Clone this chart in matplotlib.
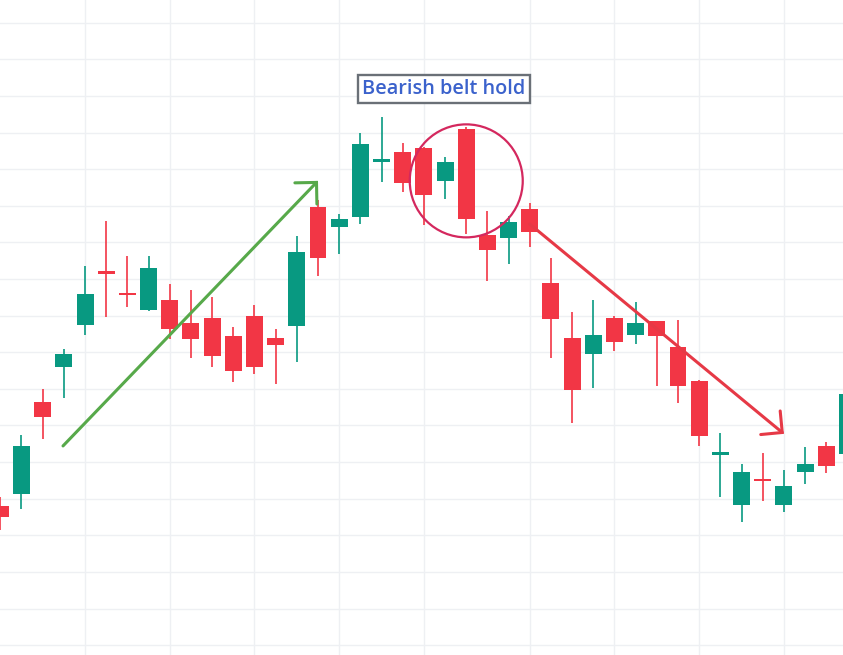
"""Bearish belt hold candlestick illustration."""

import matplotlib

matplotlib.use("Agg")
import matplotlib.pyplot as plt
from matplotlib.patches import ArrowStyle, Ellipse, FancyArrowPatch

# OHLC (grid step = 1.0 price unit)
opens = [23.80, 24.13, 26.64, 27.60, 28.74, 30.19, 29.62, 29.15, 29.43, 28.80,
         28.93, 28.44, 28.99, 28.39, 28.72, 31.97, 31.42, 31.69, 33.20, 33.47,
         33.58, 32.68, 34.10, 31.20, 31.12, 31.91, 29.89, 28.39, 27.95, 28.93,
         28.47, 28.85, 28.14, 27.21, 25.22, 23.83, 24.54, 23.83, 24.73, 25.44,
         25.22]
highs = [24.04, 25.74, 26.99, 28.09, 30.36, 31.58, 30.63, 30.63, 29.86, 29.70,
         29.51, 28.69, 29.29, 28.63, 31.17, 32.16, 31.78, 33.99, 34.43, 33.72,
         33.60, 33.33, 34.15, 31.86, 31.72, 32.08, 30.57, 29.10, 29.43, 28.99,
         29.37, 28.86, 28.88, 27.24, 25.79, 24.95, 25.25, 24.78, 25.41, 25.55,
         27.00]
lows = [23.14, 23.72, 25.63, 26.75, 28.47, 28.96, 29.23, 29.13, 28.36, 27.84,
        27.60, 27.19, 27.40, 27.13, 27.73, 30.08, 30.68, 31.50, 32.65, 32.38,
        31.48, 32.19, 31.23, 29.95, 30.41, 30.87, 27.84, 26.07, 27.02, 28.03,
        28.22, 27.08, 26.61, 25.44, 24.04, 23.36, 23.93, 23.63, 24.40, 24.70,
        25.10]
closes = [23.50, 25.44, 26.23, 27.95, 29.59, 30.14, 29.56, 30.30, 28.63, 28.36,
          27.90, 27.49, 27.60, 28.20, 30.74, 30.57, 31.64, 33.69, 33.25, 32.62,
          32.30, 33.20, 31.64, 30.79, 31.56, 31.28, 28.91, 26.97, 28.47, 28.28,
          28.80, 28.44, 27.08, 25.71, 25.27, 24.73, 24.48, 24.34, 24.95, 24.89,
          26.86]

# vertical time grid sits on these bars
time_grid = [4, 8, 12, 16, 20, 25, 29, 33, 37]

label = "Bearish belt hold"
label_pos = (20.95, 35.19)
circle_center = (22.0, 32.68)
up_arrow = ((2.96, 25.44), (15.0, 32.68))
down_arrow = ((25.0, 31.50), (37.0, 25.77))

UP = "#089981"
DOWN = "#f23645"

fig = plt.figure(figsize=(8.43, 6.55), dpi=100)
ax = fig.add_axes([0, 0, 1, 1])
ax.set_xlim(-0.015, 39.79)
ax.set_ylim(19.73, 37.62)

for y in range(20, 38):
    ax.axhline(y, color="#eef0f3", lw=1.0, zorder=0)
for x in time_grid:
    ax.axvline(x, color="#eef0f3", lw=1.0, zorder=0)

min_body = 0.08
for i, (o, h, l, c) in enumerate(zip(opens, highs, lows, closes)):
    col = UP if c >= o else DOWN
    ax.vlines(i, l, h, color=col, lw=1.2, zorder=2)
    body = max(abs(c - o), min_body)
    ax.bar(i, body, bottom=min(o, c) - (body - abs(c - o)) / 2, width=0.8,
           color=col, edgecolor="none", zorder=3)

# trend arrows
head = ArrowStyle("->", head_length=11, head_width=11)
for (start, end), col in [(up_arrow, "#57a94a"), (down_arrow, "#e63946")]:
    arr = FancyArrowPatch(start, end, arrowstyle=head, mutation_scale=1,
                          color=col, lw=2.2, capstyle="round",
                          joinstyle="miter", zorder=4,
                          shrinkA=0, shrinkB=0)
    ax.add_patch(arr)

# circle round the pattern, drawn in pixels so it stays round
cx, cy = ax.transData.transform(circle_center)
ring = Ellipse((cx, cy), 113, 113, transform=None, fill=False,
               edgecolor="#d4285e", lw=1.6, zorder=5)
fig.patches.append(ring)

ax.text(*label_pos, label, ha="center", va="center", fontsize=14.3,
        family=["Open Sans", "DejaVu Sans"], fontweight="semibold",
        color="#3b62cc", zorder=6,
        bbox=dict(boxstyle="square,pad=0.22", facecolor="white",
                  edgecolor="#6a7077", linewidth=1.7))

ax.axis("off")
fig.savefig("out.png", dpi=100, facecolor="white")
